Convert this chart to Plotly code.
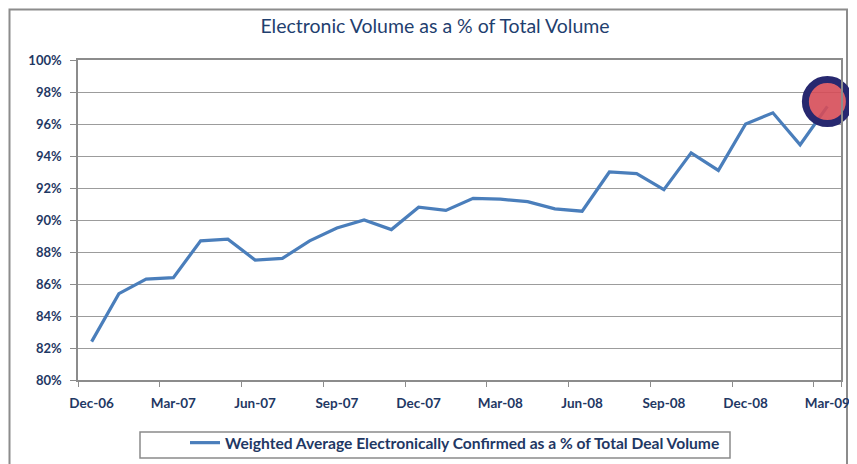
import plotly.graph_objects as go

# ---------------- data ----------------
months = ["Dec-06", "Jan-07", "Feb-07", "Mar-07", "Apr-07", "May-07", "Jun-07",
          "Jul-07", "Aug-07", "Sep-07", "Oct-07", "Nov-07", "Dec-07",
          "Jan-08", "Feb-08", "Mar-08", "Apr-08", "May-08", "Jun-08",
          "Jul-08", "Aug-08", "Sep-08", "Oct-08", "Nov-08", "Dec-08",
          "Jan-09", "Feb-09", "Mar-09"]
pct_electronic = [82.4, 85.4, 86.3, 86.4, 88.7, 88.8, 87.5,
                  87.6, 88.7, 89.5, 90.0, 89.4, 90.8,
                  90.6, 91.35, 91.3, 91.15, 90.7, 90.55,
                  93.0, 92.9, 91.9, 94.2, 93.1, 96.0,
                  96.7, 94.7, 97.1]
quarter_labels = ["Dec-06", "Mar-07", "Jun-07", "Sep-07", "Dec-07",
                  "Mar-08", "Jun-08", "Sep-08", "Dec-08", "Mar-09"]
highlight_month = ["Mar-09"]
highlight_pct = [97.4]
y_ticks = [80, 82, 84, 86, 88, 90, 92, 94, 96, 98, 100]

chart_title = "Electronic Volume as a % of Total Volume"
series_name = "Weighted Average Electronically Confirmed as a % of Total Deal Volume"

# ---------------- layout geometry ----------------
# The page body adds an 8px offset, so the figure is laid out in
# window coordinates minus that offset.
OFF = 8
WIN_W, WIN_H = 857, 464
W, H = WIN_W - OFF, WIN_H - OFF
PLOT_L, PLOT_R, PLOT_T, PLOT_B = 78, 841, 60, 380  # window px
ML, MR = PLOT_L - OFF, W - (PLOT_R - OFF)
MT, MB = PLOT_T - OFF, H - (PLOT_B - OFF)
PW, PH = W - ML - MR, H - MT - MB


def px_x(px):
    return (px - OFF - ML) / PW


def px_y(py):
    return (H - MB - (py - OFF)) / PH


NAVY = "#1F3864"
GRID = "#9C9C9C"

fig = go.Figure()
fig.add_trace(go.Scatter(
    x=months, y=pct_electronic, mode="lines", name=series_name,
    line=dict(color="#4A7EBB", width=3.2),
))
fig.add_trace(go.Scatter(
    x=highlight_month, y=highlight_pct, mode="markers", showlegend=False,
    marker=dict(size=44, color="rgba(214,76,88,0.9)",
                line=dict(color="#27286F", width=7)),
    cliponaxis=False,
))

fig.update_layout(
    width=W, height=H,
    margin=dict(l=ML, r=MR, t=MT, b=MB, autoexpand=False),
    paper_bgcolor="white", plot_bgcolor="white",
    title=dict(text=chart_title, x=(435 - OFF) / W, xref="container",
               xanchor="center",
               y=1 - (26 - OFF) / H, yref="container", yanchor="middle",
               font=dict(family="Lato", size=19.5, color="#1F3F6F")),
    showlegend=True,
    legend=dict(orientation="h", x=px_x(185), xanchor="left",
                y=px_y(443), yanchor="middle",
                font=dict(family="Lato", size=15.6, color="#1F3864",
                          weight="bold"),
                bgcolor="rgba(0,0,0,0)", borderwidth=0),
    shapes=[
        # legend frame
        dict(type="rect", xref="paper", yref="paper",
             x0=px_x(140), x1=px_x(730), y0=px_y(458), y1=px_y(432),
             line=dict(color="#8A8A8A", width=1.5), layer="below"),
        # outer chart frame
        dict(type="rect", xref="paper", yref="paper",
             x0=px_x(9.5), x1=px_x(847), y0=px_y(475), y1=px_y(9.5),
             line=dict(color="#8C8C8C", width=2), layer="below"),
    ],
)

fig.update_xaxes(
    type="category", categoryorder="array", categoryarray=months,
    range=[-0.5, len(months) - 0.5],
    tickmode="array", tickvals=quarter_labels, ticktext=quarter_labels,
    tickangle=0, ticklabelstandoff=10,
    tickson="boundaries", ticks="outside", ticklen=5, tickcolor="#8C8C8C",
    showgrid=False, zeroline=False,
    showline=True, linecolor="#8C8C8C", linewidth=1.5, mirror=True,
    tickfont=dict(family="Lato", size=13.5, color=NAVY, weight="bold"),
)
fig.update_yaxes(
    range=[80, 100], tickmode="array", tickvals=y_ticks,
    ticktext=[f"{v}%" for v in y_ticks],
    ticks="outside", ticklen=6, tickcolor="#8C8C8C", ticklabelstandoff=6,
    showgrid=True, gridcolor=GRID, gridwidth=1.2, zeroline=False,
    showline=True, linecolor="#8C8C8C", linewidth=1.5, mirror=True,
    tickfont=dict(family="Lato", size=13, color=NAVY, weight="bold"),
)

fig.write_html("out.html")
